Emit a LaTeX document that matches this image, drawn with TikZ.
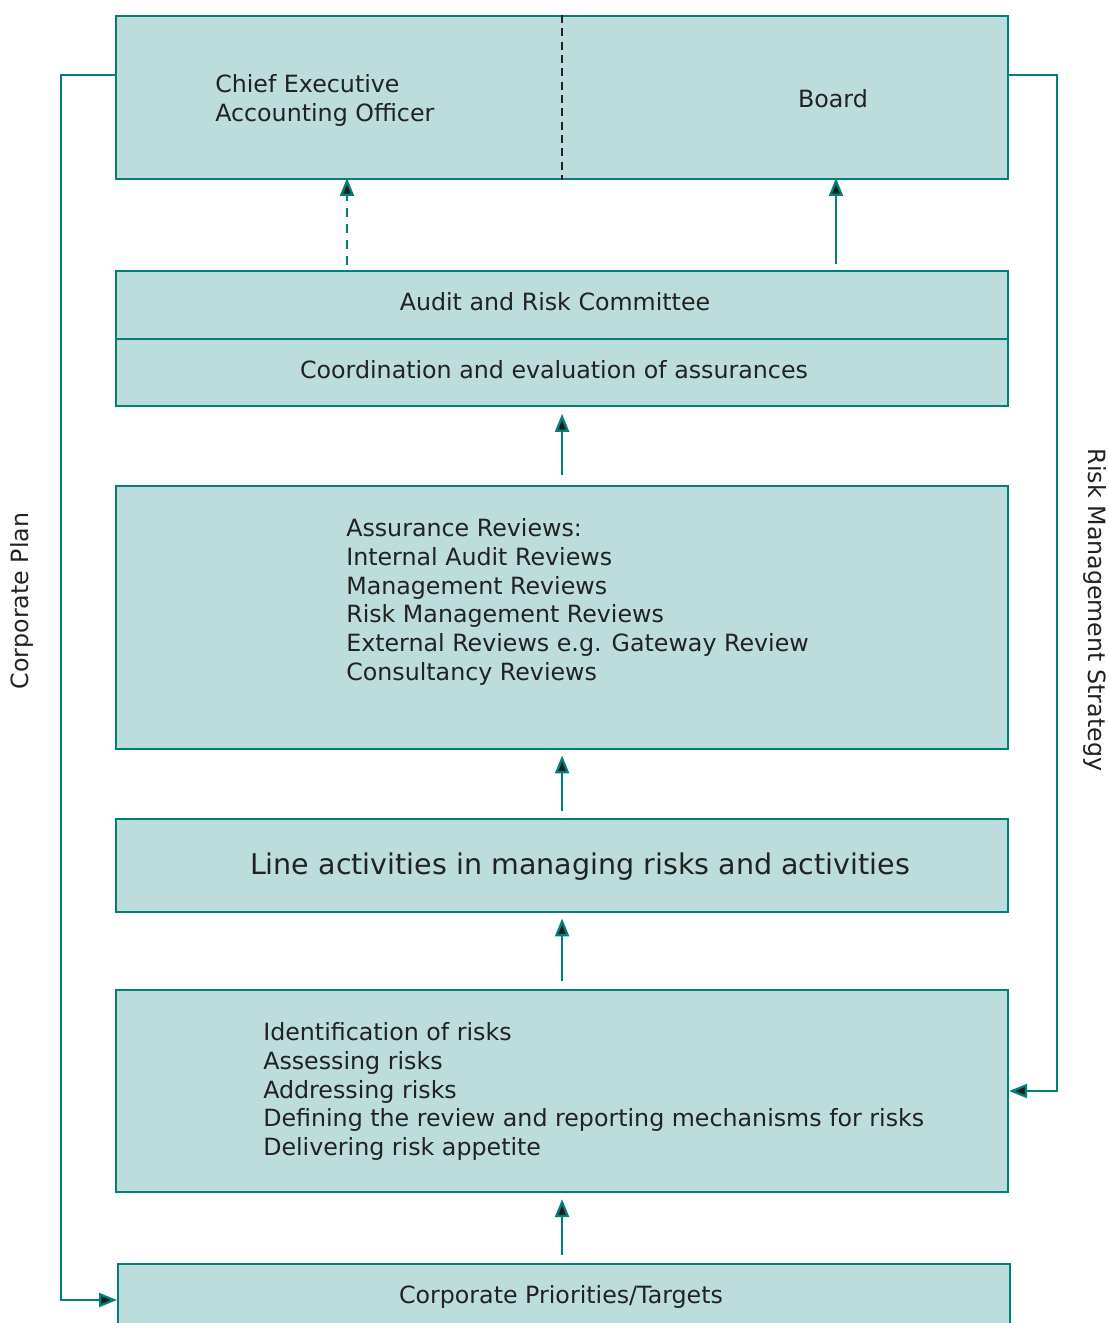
\documentclass[tikz,border=0pt]{standalone}
\usepackage{fontspec}
\setmainfont{DejaVu Sans}
\usetikzlibrary{arrows.meta}
\definecolor{tealline}{RGB}{0,128,120}
\definecolor{boxfill}{RGB}{188,221,220}
\definecolor{inkgray}{RGB}{34,34,34}
\definecolor{tipfill}{RGB}{30,30,30}
\tikzset{
  box/.style={draw=tealline, fill=boxfill, line width=1.6pt, inner sep=0pt, anchor=north west, minimum width=669pt},
  lbl/.style={inner sep=0pt, text=inkgray, font=\fontsize{17.8}{21.6}\selectfont},
  arr/.style={draw=tealline, line width=1.7pt, -{Triangle[length=13.5pt,width=10.5pt,fill=tipfill]}},
}
\begin{document}
\begin{tikzpicture}[x=0.75pt,y=-0.75pt]
\useasboundingbox (0,0) rectangle (1108,1323);

% boxes, top to bottom
\node[box, minimum height=122.25pt] (top) at (115,15) {};
\node[box, minimum height=50.625pt] (audit) at (115,270) {};
\node[box, minimum height=50.625pt] (coord) at (115,337.5) {};
\node[box, minimum height=197.25pt] (assur) at (115,485) {};
\node[box, minimum height=69.75pt] (line) at (115,818) {};
\node[box, minimum height=151.5pt] (ident) at (115,989) {};
\node[box, minimum height=60pt] (corp) at (117,1263) {};

% divider between the two halves of the top box
\draw[inkgray, line width=1pt, dash pattern=on 6pt off 4pt] (top.north) -- (top.south);

% labels
\node[lbl, anchor=west, align=left] (ceo) at (215,100.5) {Chief Executive\\Accounting Officer};
\node[lbl] (board) at (833,99) {Board};
\node[lbl] (auditlbl) at (555,302) {Audit and Risk Committee};
\node[lbl] (coordlbl) at (554,369.5) {Coordination and evaluation of assurances};
\node[lbl, anchor=west, align=left] (assurlbl) at (346,602) {Assurance Reviews:\\Internal Audit Reviews\\Management Reviews\\Risk Management Reviews\\External Reviews e.g. Gateway Review\\Consultancy Reviews};
\node[lbl, font=\fontsize{21.4}{24}\selectfont] (linelbl) at (580,867) {Line activities in managing risks and activities};
\node[lbl, anchor=west, align=left] (identlbl) at (263,1091.5) {Identification of risks\\Assessing risks\\Addressing risks\\Defining the review and reporting mechanisms for risks\\Delivering risk appetite};
\node[lbl] (corplbl) at (561,1297) {Corporate Priorities/Targets};
\node[lbl, rotate=90] (planlbl) at (22,601) {Corporate Plan};
\node[lbl, rotate=-90] (rmslbl) at (1095,610) {Risk Management Strategy};

% anchor points for the two upward links into the top box
\coordinate (ceoin) at (347,178);
\coordinate (boardin) at (836,178);
\coordinate (ceoout) at (347,265);
\coordinate (boardout) at (836,264);

% upward flow
\draw[arr, dash pattern=on 7pt off 5pt] (ceoout) -- (ceoin);
\draw[arr] (boardout) -- (boardin);
\draw[arr, shorten <=7.5pt, shorten >=5pt] (assur.north) -- (coord.south);
\draw[arr, shorten <=5pt, shorten >=4pt] (line.north) -- (assur.south);
\draw[arr, shorten <=6pt, shorten >=4pt] (ident.north) -- (line.north |- line.south);
\draw[arr, shorten <=6pt, shorten >=4.5pt] (corp.north -| ident.south) -- (ident.south);

% side loops
\coordinate (planl) at (61,75);
\coordinate (planb) at (61,1300);
\coordinate (rmsr) at (1057,75);
\coordinate (rmsb) at (1057,1091);
\draw[arr] (top.west |- planl) -- (planl) -- (planb) -- (corp.west |- planb);
\draw[arr] (top.east |- rmsr) -- (rmsr) -- (rmsb) -- (ident.east |- rmsb);
\end{tikzpicture}
\end{document}
